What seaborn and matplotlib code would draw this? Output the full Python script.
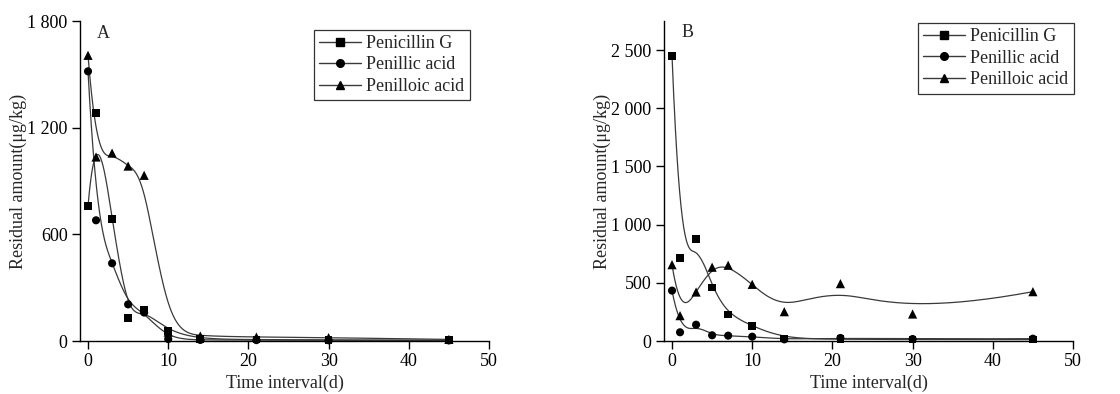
import numpy as np
import pandas as pd
import matplotlib
matplotlib.use("Agg")
import matplotlib.pyplot as plt
from matplotlib.lines import Line2D
from matplotlib.ticker import FuncFormatter
import seaborn as sns

# ---------------- data ----------------
days = [0, 1, 3, 5, 7, 10, 14, 21, 30, 45]
series_names = ["Penicillin G", "Penillic acid", "Penilloic acid"]

penG_A = [759, 1282, 686, 131, 174, 56, 10, 8, 6, 4]
penillic_A = [1517, 679, 437, 206, 160, 11, 6, 5, 4, 3]
penilloic_A = [1607, 1035, 1057, 984, 932, 50, 28, 22, 19, 9]

penG_B = [2451, 714, 874, 459, 229, 129, 20, 15, 12, 12]
penillic_B = [433, 75, 140, 49, 46, 37, 14, 26, 17, 20]
penilloic_B = [656, 218, 421, 634, 651, 487, 252, 493, 232, 424]

yticks_A = [0, 600, 1200, 1800]
yticks_B = [0, 500, 1000, 1500, 2000, 2500]
xticks = [0, 10, 20, 30, 40, 50]

# ---------------- style ----------------
sns.set_theme(style="ticks")
plt.rcParams["font.family"] = ["Liberation Serif", "DejaVu Serif"]

FS = 13
LINE_C = "#3a3a3a"
markers = ["s", "o", "^"]
msizes = [30, 34, 44]


def bspline(xs, ys, num=600, k=3):
    """Clamped uniform cubic B-spline using the data as control points."""
    P = np.column_stack([xs, ys]).astype(float)
    n = len(P)
    knots = np.concatenate([np.zeros(k), np.arange(n - k + 1), np.full(k, n - k)]).astype(float)
    t = np.linspace(0, n - k, num)
    t[-1] -= 1e-9
    N = np.zeros((num, len(knots) - 1))
    for i in range(len(knots) - 1):
        N[:, i] = ((t >= knots[i]) & (t < knots[i + 1])).astype(float)
    for d in range(1, k + 1):
        Nn = np.zeros((num, len(knots) - 1 - d))
        for i in range(len(knots) - 1 - d):
            a = knots[i + d] - knots[i]
            b = knots[i + d + 1] - knots[i + 1]
            term = np.zeros(num)
            if a > 0:
                term += (t - knots[i]) / a * N[:, i]
            if b > 0:
                term += (knots[i + d + 1] - t) / b * N[:, i + 1]
            Nn[:, i] = term
        N = Nn
    C = N @ P
    return C[:, 0], C[:, 1]


fig = plt.figure(figsize=(11.2, 3.94), dpi=100)
axA = fig.add_axes([80 / 1120, 53 / 394, 409 / 1120, 320 / 394])
axB = fig.add_axes([664 / 1120, 53 / 394, 409 / 1120, 320 / 394])

panels = [
    (axA, [penG_A, penillic_A, penilloic_A], (0, 1800), yticks_A, "A", 1729, (47.6, 1752)),
    (axB, [penG_B, penillic_B, penilloic_B], (0, 2750), yticks_B, "B", 2655, (50.1, 2735)),
]

for ax, data, ylim, yt, label, label_y, leg_anchor in panels:
    for name, vals, m, ms in zip(series_names, data, markers, msizes):
        sx, sy = bspline(days, vals)
        curve = pd.DataFrame({"x": sx, "y": sy})
        sns.lineplot(data=curve, x="x", y="y", ax=ax, color=LINE_C, lw=0.9,
                     estimator=None, sort=False, legend=False)
        pts = pd.DataFrame({"x": days, "y": vals})
        sns.scatterplot(data=pts, x="x", y="y", ax=ax, marker=m, color="black",
                        s=ms, edgecolor="none", linewidth=0,
                        legend=False, clip_on=False, zorder=5)
    ax.set_xlim(-1, 50)
    ax.set_ylim(*ylim)
    ax.set_xticks(xticks)
    ax.set_yticks(yt)
    ax.yaxis.set_major_formatter(FuncFormatter(lambda v, p: f"{int(v):,}".replace(",", " ")))
    ax.tick_params(axis="both", direction="out", length=6, width=1.0, labelsize=FS,
                   colors="black", pad=3)
    for s in ["top", "right"]:
        ax.spines[s].set_visible(False)
    for s in ["left", "bottom"]:
        ax.spines[s].set_color("black")
        ax.spines[s].set_linewidth(1.0)
    ax.set_xlabel("Time interval(d)", fontsize=FS, labelpad=3)
    ax.set_ylabel("Residual amount(μg/kg)", fontsize=FS)
    ax.yaxis.set_label_coords(-0.13, 0.5)
    ax.text(1.95, label_y, label, fontsize=FS, ha="center", va="center")

    handles = [Line2D([], [], color=LINE_C, lw=1.0, marker=m, markersize=5.5,
                      markerfacecolor="black", markeredgecolor="black")
               for m in markers]
    leg = ax.legend(handles, series_names, loc="upper right",
                    bbox_to_anchor=leg_anchor, bbox_transform=ax.transData,
                    fontsize=FS, frameon=True, fancybox=False, framealpha=1,
                    edgecolor="#333333", handlelength=2.3, handletextpad=0.3,
                    borderpad=0.3, labelspacing=0.25, borderaxespad=0)
    leg.get_frame().set_linewidth(0.9)

fig.savefig("out.png", dpi=100)
